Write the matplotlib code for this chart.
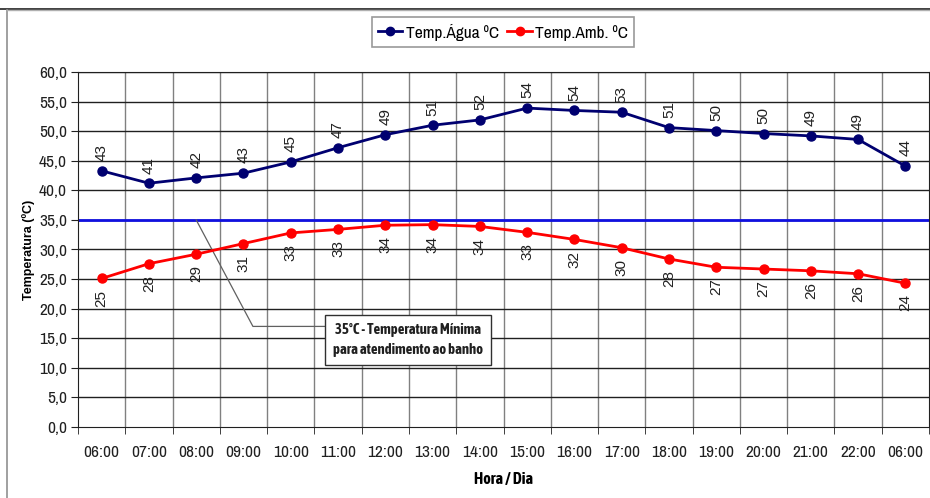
import matplotlib
matplotlib.use("Agg")
import matplotlib.pyplot as plt
from matplotlib.lines import Line2D

hours = ["06:00", "07:00", "08:00", "09:00", "10:00", "11:00", "12:00", "13:00", "14:00",
         "15:00", "16:00", "17:00", "18:00", "19:00", "20:00", "21:00", "22:00", "06:00"]
temp_agua = [43.3, 41.2, 42.1, 42.9, 44.8, 47.2, 49.4, 51.0, 51.9, 53.9, 53.5, 53.2,
             50.6, 50.1, 49.6, 49.2, 48.6, 44.1]
temp_amb = [25.1, 27.6, 29.2, 31.0, 32.8, 33.4, 34.1, 34.2, 33.9, 32.9, 31.7, 30.3,
            28.4, 27.0, 26.7, 26.4, 25.9, 24.3]
limite = 35.0
y_ticks = [0, 5, 10, 15, 20, 25, 30, 35, 40, 45, 50, 55, 60]
nota = "35ºC - Temperatura Mínima\npara atendimento ao banho"

NARROW = ["Archivo Narrow", "DejaVu Sans"]
NARROW_B = ["Asap Condensed", "Archivo Narrow", "DejaVu Sans"]
ARIAL = ["Liberation Sans", "DejaVu Sans"]

fig = plt.figure(figsize=(9.3, 4.98), dpi=100)
W, H = 930, 498
ax = fig.add_axes([78 / W, 1 - 427 / H, (929 - 78) / W, (427 - 72) / H])

x = list(range(len(hours)))
ax.set_xlim(-0.5, len(hours) - 0.5)
ax.set_ylim(0, 60)

# grid
for xb in [i + 0.5 for i in range(len(hours) - 1)]:
    ax.axvline(xb, color="#808080", lw=1.0, zorder=1)
for yt in y_ticks[1:]:
    ax.axhline(yt, color="#202020", lw=1.0, zorder=1)

ax.axhline(limite, color="#1010e0", lw=2.0, zorder=2)

c_agua = "#000070"
c_amb = "#ff0000"
ax.plot(x, temp_agua, color=c_agua, lw=2, marker="o", ms=6.5, zorder=4)
ax.plot(x, temp_amb, color=c_amb, lw=2, marker="o", ms=6.5, zorder=4)

for xi, v in zip(x, temp_agua):
    ax.annotate(f"{v:.0f}", (xi, v), xytext=(0, 7), textcoords="offset points",
                rotation=90, ha="center", va="bottom", fontsize=11, family=ARIAL,
                color="#202020")
for xi, v in zip(x, temp_amb):
    ax.annotate(f"{v:.0f}", (xi, v), xytext=(0, -8), textcoords="offset points",
                rotation=90, ha="center", va="top", fontsize=11, family=ARIAL,
                color="#202020")

# callout
ax.plot([2.0, 3.2, 4.79], [35.0, 17.0, 17.0], color="#606060", lw=0.9, zorder=3)
ax.text(6.47, 14.7, nota, ha="center", va="center", fontsize=10.5, fontweight="bold",
        family=NARROW_B, color="#202020", linespacing=1.5, zorder=6,
        bbox=dict(boxstyle="square,pad=0.55", fc="white", ec="#303030", lw=1.0))

# axes styling
ax.set_yticks(y_ticks)
ax.set_yticklabels([f"{v:.1f}".replace(".", ",") for v in y_ticks], family=NARROW,
                   fontsize=12.5, color="#202020")
ax.set_xticks(x)
ax.set_xticklabels(hours, family=NARROW, fontsize=12.5, color="#202020")
ax.set_xticks([i + 0.5 for i in range(-1, len(hours))], minor=True)
ax.tick_params(axis="x", which="major", length=0, pad=13)
ax.tick_params(axis="x", which="minor", length=5, direction="out", color="#202020")
ax.tick_params(axis="y", length=5, direction="out", color="#202020", pad=3)
for s in ["top", "right", "left", "bottom"]:
    ax.spines[s].set_color("#202020")

ax.set_ylabel("Temperatura (ºC)", family=ARIAL, fontsize=9, fontweight="bold", labelpad=3)
ax.set_xlabel("Hora / Dia", family=NARROW_B, fontsize=11.5, fontweight="bold", labelpad=8)

# legend
handles = [Line2D([], [], color=c_agua, lw=2, marker="o", ms=6),
           Line2D([], [], color=c_amb, lw=2, marker="o", ms=6)]
leg = fig.legend(handles, ["Temp.Água ºC", "Temp.Amb. ºC"], loc="center",
                 bbox_to_anchor=(503 / W, 1 - 32 / H), ncol=2, frameon=True,
                 fancybox=False, edgecolor="#808080", prop={"family": NARROW, "size": 12.5},
                 handlelength=1.4, handletextpad=0.2, columnspacing=0.5, borderpad=0.35,
                 borderaxespad=0.2)
leg.get_frame().set_linewidth(1.2)

# outer frame
fig.add_artist(Line2D([0, 1], [1 - 9 / H, 1 - 9 / H], transform=fig.transFigure,
                      color="#202020", lw=1.2))
fig.add_artist(Line2D([7 / W, 7 / W], [0, 1 - 10 / H], transform=fig.transFigure,
                      color="#909090", lw=1.2))
fig.add_artist(Line2D([7 / W, 1], [1 - 10.5 / H, 1 - 10.5 / H], transform=fig.transFigure,
                      color="#b0b0b0", lw=1.0))

fig.savefig("out.png", dpi=100)
